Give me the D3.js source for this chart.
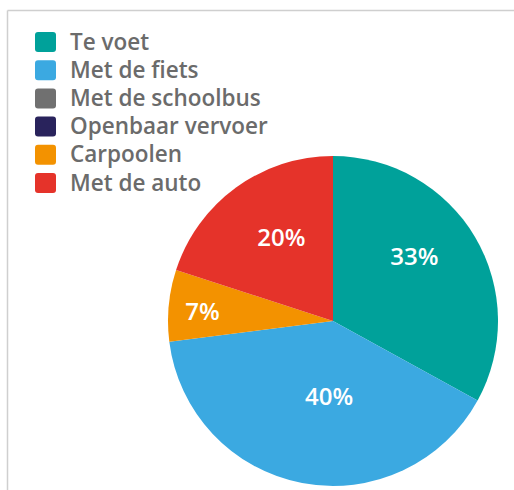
<!DOCTYPE html>
<html>
<head>
<meta charset="utf-8">
<script src="https://cdn.jsdelivr.net/npm/d3@7"></script>
<style>
  body { margin: 0; background: #fff; }
  svg { display: block; }
</style>
</head>
<body>
<div id="chart"></div>
<script>
// data
const categories = ["Te voet", "Met de fiets", "Met de schoolbus", "Openbaar vervoer", "Carpoolen", "Met de auto"];
const values = [33, 40, 0, 0, 7, 20];
const colors = ["#00a19a", "#3ba9e1", "#707070", "#29235c", "#f39200", "#e5332a"];

// label placement per slice: [angle in degrees from top, distance from centre]
const labelSpots = [[51.5, 104], [183, 75], [0, 0], [0, 0], [274.4, 131], [328.2, 98]];

const width = 514, height = 490;
const cx = 333, cy = 321, radius = 165;

const svg = d3.select("#chart")
    .append("svg")
        .attr("width", width)
        .attr("height", height);

// frame (top and left edges)
svg.append("line")
    .attr("x1", 7.5).attr("x2", width).attr("y1", 10.5).attr("y2", 10.5)
    .attr("stroke", "#cfcfcf").attr("stroke-width", 1.5);
svg.append("line")
    .attr("x1", 7.5).attr("x2", 7.5).attr("y1", 10.5).attr("y2", height)
    .attr("stroke", "#cfcfcf").attr("stroke-width", 1.5);

const data = categories.map((c, i) => ({name: c, value: values[i], color: colors[i], spot: labelSpots[i]}));

const pie = d3.pie()
    .sort(null)
    .value(d => d.value);

const arc = d3.arc()
    .innerRadius(0)
    .outerRadius(radius);

const g = svg.append("g")
    .attr("transform", `translate(${cx}, ${cy})`);

const slices = pie(data).filter(d => d.data.value > 0);

g.selectAll("path")
    .data(slices)
    .enter()
    .append("path")
        .attr("d", arc)
        .attr("fill", d => d.data.color);

g.selectAll("text")
    .data(slices)
    .enter()
    .append("text")
        .attr("x", d => Math.sin(d.data.spot[0] * Math.PI / 180) * d.data.spot[1])
        .attr("y", d => -Math.cos(d.data.spot[0] * Math.PI / 180) * d.data.spot[1])
        .attr("text-anchor", "middle")
        .attr("dy", "0.36em")
        .attr("fill", "#fff")
        .style("font-family", "'Open Sans', sans-serif")
        .style("font-weight", 600)
        .style("font-size", "24px")
        .text(d => d.data.value + "%");

// legend
const legend = svg.append("g")
    .attr("transform", "translate(35, 32)");

const rows = legend.selectAll("g")
    .data(data)
    .enter()
    .append("g")
        .attr("transform", (d, i) => `translate(0, ${i * 28.2})`);

rows.append("rect")
    .attr("width", 21)
    .attr("height", 20)
    .attr("rx", 3)
    .attr("fill", d => d.color);

rows.append("text")
    .attr("x", 35)
    .attr("y", 17.5)
    .attr("fill", "#6b6b6b")
    .style("font-family", "'Open Sans', sans-serif")
    .style("font-weight", 600)
    .style("font-size", "22.5px")
    .text(d => d.name);
</script>
</body>
</html>
